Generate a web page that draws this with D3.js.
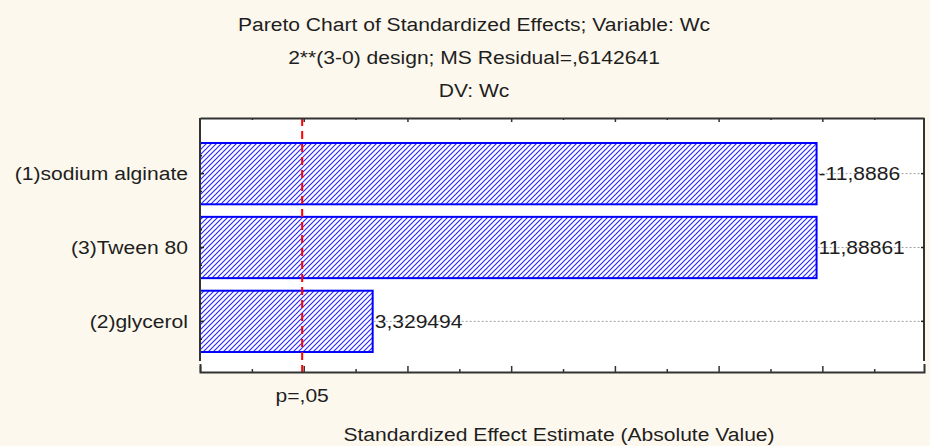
<!DOCTYPE html>
<html><head><meta charset="utf-8">
<script src="https://cdn.jsdelivr.net/npm/d3@7"></script>
<style>
body{margin:0;background:#fdf8ed}
svg{display:block}
text{font-family:"Liberation Sans",Arial,sans-serif;fill:#1e1e1e;font-size:18px}
</style>
</head><body>
<svg id="c" width="930" height="446"></svg>
<script>
// ---- data ----
const titleLines = ["Pareto Chart of Standardized Effects; Variable: Wc",
                    "2**(3-0) design; MS Residual=,6142641",
                    "DV: Wc"];
const categories = ["(1)sodium alginate", "(3)Tween 80", "(2)glycerol"];
const effects = [11.8886, 11.88861, 3.329494];
const effectLabels = ["-11,8886", "11,88861", "3,329494"];
const pCritical = 1.97;
const pLabel = "p=,05";
const xTitle = "Standardized Effect Estimate (Absolute Value)";
const xDomain = [0, 13.96];
const xMajorTicks = [0, 2, 4, 6, 8, 10, 12];
const xMinorTicks = [1, 3, 5, 7, 9, 11, 13];

// ---- layout ----
const plot = {left: 200, right: 924, top: 118, bottom: 372};
const STRETCH = 1.17;

const svg = d3.select("#c");
const defs = svg.append("defs");
const pat = defs.append("pattern").attr("id", "hatch")
  .attr("patternUnits", "userSpaceOnUse").attr("width", 5).attr("height", 5);
pat.append("rect").attr("width", 5).attr("height", 5).attr("fill", "#fff");
pat.append("path").attr("d", "M-1,1 l2,-2 M0,5 l5,-5 M4,6 l2,-2")
  .attr("stroke", "#2a2aff").attr("stroke-width", 1.2);

function stretchText(sel) {
  sel.each(function () {
    const w = this.getComputedTextLength();
    d3.select(this).attr("textLength", w * STRETCH).attr("lengthAdjust", "spacingAndGlyphs");
  });
}

const x = d3.scaleLinear().domain(xDomain).range([plot.left, plot.right]);
const y = d3.scaleBand().domain(categories).range([143, 352]).paddingInner(0.17);

// plot background
svg.append("rect").attr("x", plot.left).attr("y", plot.top)
  .attr("width", plot.right - plot.left).attr("height", plot.bottom - plot.top)
  .attr("fill", "#fff");

// titles
svg.selectAll("text.title").data(titleLines).join("text")
  .attr("class", "title").attr("x", 474).attr("y", (d, i) => 31 + i * 33)
  .attr("text-anchor", "middle").text(d => d)
  .call(stretchText);

// bars
svg.selectAll("rect.bar").data(effects).join("rect")
  .attr("class", "bar")
  .attr("x", x(0)).attr("y", (d, i) => y(categories[i]))
  .attr("width", d => x(d) - x(0)).attr("height", y.bandwidth())
  .attr("fill", "url(#hatch)").attr("stroke", "#0000ff").attr("stroke-width", 2);

// dotted guide lines
svg.selectAll("line.guide").data(effects).join("line")
  .attr("class", "guide")
  .attr("x1", d => x(d) + 1).attr("x2", plot.right)
  .attr("y1", (d, i) => y(categories[i]) + y.bandwidth() / 2)
  .attr("y2", (d, i) => y(categories[i]) + y.bandwidth() / 2)
  .attr("stroke", "#a0a0a0").attr("stroke-width", 1).attr("stroke-dasharray", "2,2");

// critical line
svg.append("line").attr("x1", x(pCritical)).attr("x2", x(pCritical))
  .attr("y1", plot.top).attr("y2", plot.bottom)
  .attr("stroke", "#ff0000").attr("stroke-width", 2).attr("stroke-dasharray", "8,5");

// frame lines
const frameColor = "#333";
svg.append("line").attr("x1", plot.left).attr("x2", plot.left)
  .attr("y1", plot.top).attr("y2", plot.bottom - 11)
  .attr("stroke", frameColor).attr("stroke-width", 2);
svg.append("line").attr("x1", plot.right).attr("x2", plot.right)
  .attr("y1", plot.top).attr("y2", plot.bottom - 11)
  .attr("stroke", frameColor).attr("stroke-width", 2);

// bottom axis
const bottomG = svg.append("g").attr("transform", `translate(0,${plot.bottom})`)
  .call(d3.axisBottom(x).tickValues(xMajorTicks).tickSize(-6).tickSizeOuter(-8).tickFormat(""));
bottomG.append("g").call(d3.axisBottom(x).tickValues(xMinorTicks).tickSize(-3).tickSizeOuter(0).tickFormat(""))
  .select(".domain").remove();
bottomG.selectAll("path,line").attr("stroke", frameColor);
bottomG.select(".domain").attr("stroke-width", 2);
bottomG.selectAll("line").attr("stroke-width", 1.5);

// top axis
const topG = svg.append("g").attr("transform", `translate(0,${plot.top})`)
  .call(d3.axisTop(x).tickValues(xMajorTicks.slice(1)).tickSize(-4).tickSizeOuter(0).tickFormat(""));
topG.append("g").call(d3.axisTop(x).tickValues(xMinorTicks).tickSize(-2).tickSizeOuter(0).tickFormat(""))
  .select(".domain").remove();
topG.selectAll("path,line").attr("stroke", frameColor);
topG.select(".domain").attr("stroke-width", 2);
topG.selectAll("line").attr("stroke-width", 1.5);

// left axis ticks (major at centres, minor either side)
const centers = categories.map(c => y(c) + y.bandwidth() / 2);
const leftG = svg.append("g");
leftG.selectAll("line.maj").data(centers).join("line")
  .attr("class", "maj")
  .attr("x1", plot.left).attr("x2", plot.left + 4).attr("y1", d => d).attr("y2", d => d)
  .attr("stroke", "#222").attr("stroke-width", 1.5);
leftG.selectAll("line.min").data(centers.flatMap(c => [c - y.bandwidth() * 0.29, c + y.bandwidth() * 0.29])).join("line")
  .attr("class", "min")
  .attr("x1", plot.left).attr("x2", plot.left + 2).attr("y1", d => d).attr("y2", d => d)
  .attr("stroke", "#222").attr("stroke-width", 1.5);
// right axis ticks
svg.append("g").selectAll("line").data(centers).join("line")
  .attr("x1", plot.right - 3).attr("x2", plot.right).attr("y1", d => d).attr("y2", d => d)
  .attr("stroke", "#222").attr("stroke-width", 1.5);

// category labels
svg.selectAll("text.cat").data(categories).join("text")
  .attr("class", "cat").attr("x", 188).attr("y", d => y(d) + y.bandwidth() / 2)
  .attr("dy", "0.35em").attr("text-anchor", "end").text(d => d)
  .call(stretchText);

// value labels
svg.selectAll("text.val").data(effects).join("text")
  .attr("class", "val").attr("x", d => x(d) + 2)
  .attr("y", (d, i) => y(categories[i]) + y.bandwidth() / 2)
  .attr("dy", "0.35em").text((d, i) => effectLabels[i])
  .call(stretchText);

// p label
svg.append("text").attr("x", x(pCritical)).attr("y", 402)
  .attr("text-anchor", "middle").text(pLabel).call(stretchText);

// axis title
svg.append("text").attr("x", (plot.left + plot.right) / 2 - 3).attr("y", 441)
  .attr("text-anchor", "middle").text(xTitle).call(stretchText);
</script>
</body></html>
